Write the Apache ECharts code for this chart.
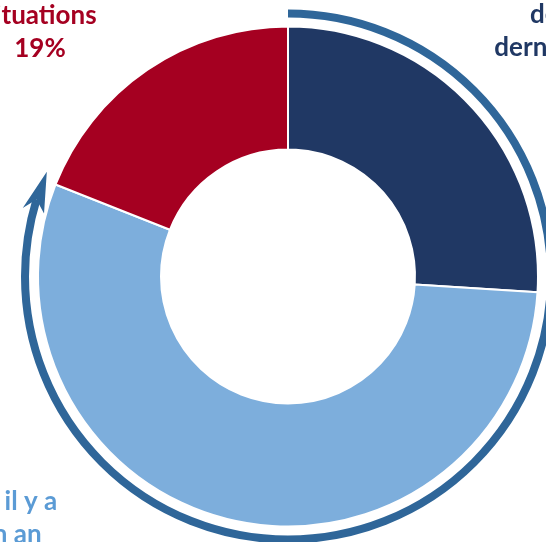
<!DOCTYPE html>
<html lang="fr">
<head>
    <meta charset="UTF-8">
    <title>Répartition</title>
    <script src="https://cdn.jsdelivr.net/npm/echarts@6/dist/echarts.min.js"></script>
    <style>
        html, body { margin: 0; padding: 0; background: #fff; }
    </style>
</head>
<body>
    <div id="main" style="width: 546px;height:542px;"></div>

    <script type="text/javascript">
        // data
        var categories = ['depuis la\ndernière année', 'Diplômés il y a\nplus d\'un an', 'Autres\nsituations'];
        var values = [26, 55, 19];
        var colors = ['#203864', '#7DAEDC', '#A50021'];
        var labelColors = ['#203864', '#5B9BD5', '#A50021'];

        // label anchor points (center of each label block)
        var labelPos = [[581, 48], [-27, 535], [40, 16]];

        var cx = 288, cy = 276.5;
        var ringR = 263;

        var myChart = echarts.init(document.getElementById('main'));

        var pieData = categories.map(function (name, i) {
            return {
                name: name,
                value: values[i],
                itemStyle: { color: colors[i] },
                label: { color: labelColors[i] }
            };
        });

        // arrow head at the end of the ring
        function pt(deg, r) {
            var a = deg * Math.PI / 180;
            return [cx + r * Math.cos(a), cy + r * Math.sin(a)];
        }
        var endDeg = 196;
        var arrowPts = [
            pt(endDeg + 7.5, ringR),
            pt(endDeg - 1.5, ringR + 11),
            pt(endDeg + 1, ringR),
            pt(endDeg - 1.5, ringR - 11)
        ];

        var option = {
            animation: false,
            series: [{
                type: 'pie',
                center: [cx, cy],
                radius: [127, 250],
                startAngle: 90,
                clockwise: true,
                avoidLabelOverlap: false,
                data: pieData,
                itemStyle: { borderColor: '#fff', borderWidth: 2 },
                label: {
                    show: true,
                    position: 'outside',
                    formatter: '{b}\n{c}%',
                    fontFamily: 'Lato',
                    fontWeight: 'bold',
                    fontSize: 26,
                    lineHeight: 33,
                    align: 'center',
                    overflow: 'none'
                },
                labelLine: { show: false },
                labelLayout: function (params) {
                    var p = labelPos[params.dataIndex];
                    return { x: p[0], y: p[1], align: 'center', verticalAlign: 'middle' };
                },
                emphasis: { disabled: true }
            }],
            graphic: [{
                type: 'arc',
                shape: {
                    cx: cx, cy: cy, r: ringR,
                    startAngle: -Math.PI / 2,
                    endAngle: (endDeg + 1) * Math.PI / 180,
                    clockwise: true
                },
                style: { stroke: '#2F6699', lineWidth: 8, fill: null }
            }, {
                type: 'polygon',
                shape: { points: arrowPts },
                style: { fill: '#2F6699' }
            }]
        };
        myChart.setOption(option);
    </script>
</body>
</html>
